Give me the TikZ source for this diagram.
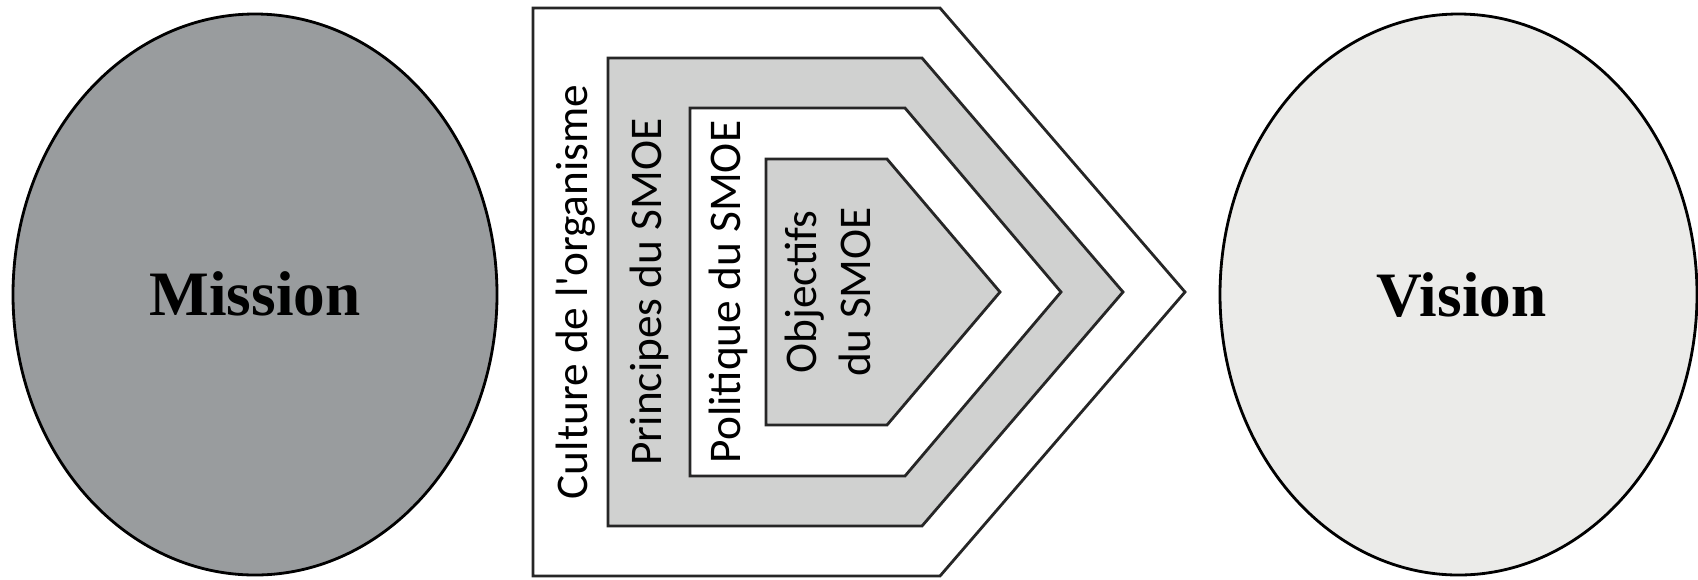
\documentclass[tikz,border=0pt]{standalone}
\usepackage{fontspec}
\setmainfont{Carlito}
\newfontfamily\boldserif{Liberation Serif}
\usepackage{xcolor}
\usepackage{tikz}
\usetikzlibrary{calc}
\definecolor{G0}{RGB}{153,156,158}
\definecolor{G1}{RGB}{208,209,208}
\definecolor{G2}{RGB}{235,235,233}

\tikzset{
  band/.style={draw=black!85, line width=0.8pt, line join=miter},
  bandtext/.style={rotate=90, font=\fontsize{12.9}{15.4}\selectfont, align=center},
  bigword/.style={anchor=base, font=\boldserif\fontsize{18}{20}\bfseries\selectfont}
}

\begin{document}
\begin{tikzpicture}
    \useasboundingbox (0,0) rectangle (16.98,5.79);
    %% the two ellipses
    \filldraw[G0, draw=black, line width=0.8pt] (2.55,2.845) ellipse (2.42cm and 2.805cm);
    \filldraw[G2, draw=black, line width=0.8pt] (14.585,2.845) ellipse (2.385cm and 2.805cm);
    \node[bigword] (mission) at (2.55,2.64) {Mission};
    \node[bigword] (vision) at (14.615,2.63) {Vision};
    %% nested chevrons, outer to inner
    \draw[band, fill=white] (5.33,5.71) -- (9.40,5.71) -- (11.85,2.87) -- (9.40,0.03) -- (5.33,0.03) -- cycle;
    \draw[band, fill=G1]    (6.08,5.21) -- (9.22,5.21) -- (11.23,2.87) -- (9.22,0.53) -- (6.08,0.53) -- cycle;
    \draw[band, fill=white] (6.90,4.71) -- (9.05,4.71) -- (10.61,2.87) -- (9.05,1.03) -- (6.90,1.03) -- cycle;
    \draw[band, fill=G1]    (7.66,4.20) -- (8.87,4.20) -- (10.00,2.87) -- (8.87,1.54) -- (7.66,1.54) -- cycle;
    %% rotated labels
    \node[bandtext] (culture) at (5.76,2.87) {Culture de l\textquotesingle organisme};
    \node[bandtext] (principes) at (6.49,2.87) {Principes du SMOE};
    \node[bandtext] (politique) at (7.28,2.87) {Politique du SMOE};
    \node[bandtext] (objectifs) at (8.28,2.87) {Objectifs\\du SMOE};
\end{tikzpicture}
\end{document}
